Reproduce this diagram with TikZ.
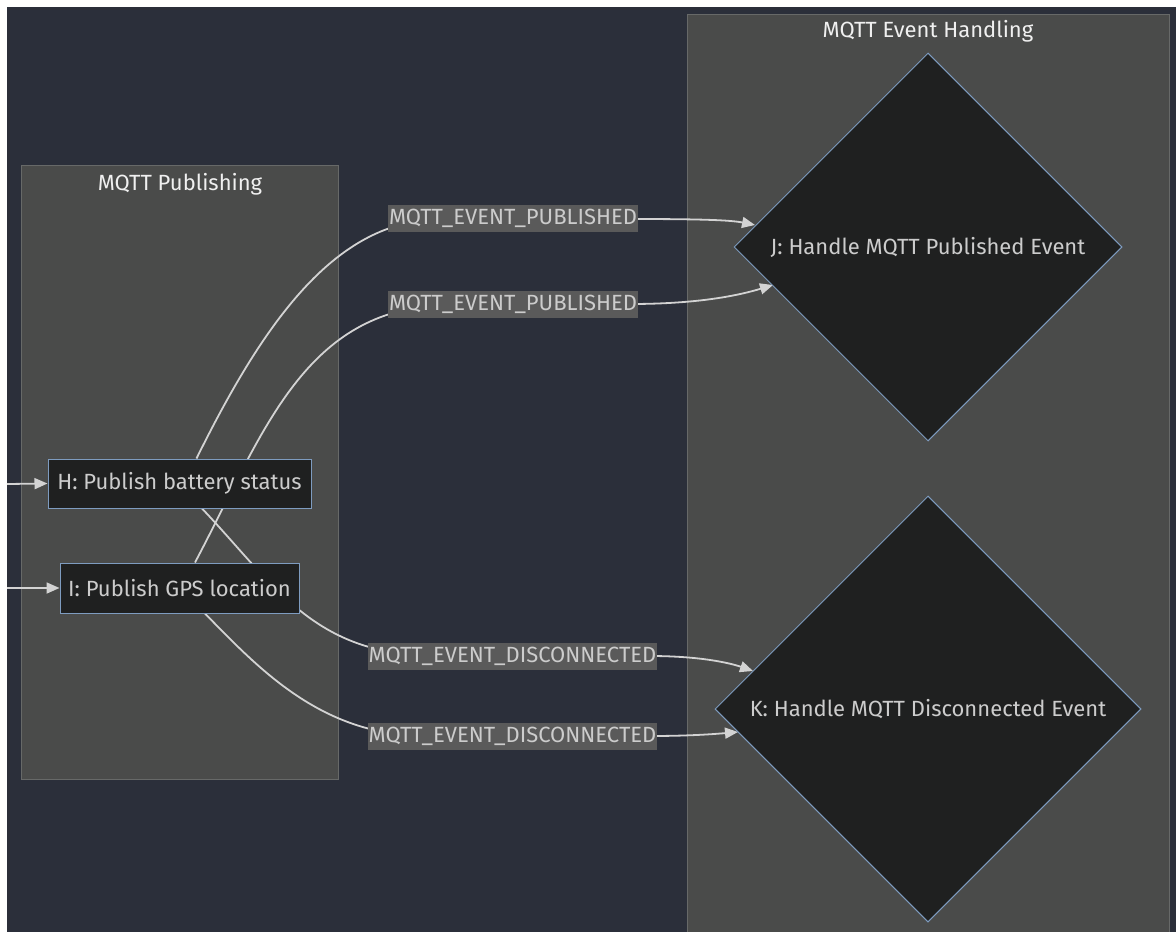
\documentclass[tikz,border=0pt]{standalone}
\usepackage{fontspec}
\setmainfont{Fira Sans}
\usetikzlibrary{arrows.meta,shapes.geometric,calc}
\pgfdeclarelayer{bglayer}
\pgfdeclarelayer{edgelayer}
\pgfsetlayers{bglayer,edgelayer,main}
\definecolor{bgc}{HTML}{2B2F3A}
\definecolor{clfill}{HTML}{4A4B4A}
\definecolor{cldraw}{HTML}{676968}
\definecolor{nfill}{HTML}{1F2020}
\definecolor{ndraw}{HTML}{7E9CC0}
\definecolor{edgec}{HTML}{D3D3D3}
\definecolor{lblbg}{HTML}{5A5A5A}
\definecolor{txtc}{HTML}{CCCCCC}
\definecolor{ttlc}{HTML}{F0F0F0}
\tikzset{
  cluster/.style={fill=clfill, draw=cldraw, line width=1pt},
  ttl/.style={text=ttlc, font=\fontsize{22}{24}\selectfont, inner sep=0pt, anchor=center},
  procbox/.style={rectangle, fill=nfill, draw=ndraw, line width=1pt, text=txtc, font=\fontsize{22}{24}\selectfont, inner sep=0pt},
  decbox/.style={diamond, aspect=1, fill=nfill, draw=ndraw, line width=1pt, text=txtc, font=\fontsize{22}{24}\selectfont, inner sep=0pt},
  conn/.style={draw=edgec, line width=1.8pt, -{Triangle[length=13pt,width=11pt]}},
  elabel/.style={fill=lblbg, text=txtc, font=\fontsize{22}{24}\selectfont, inner xsep=1pt, inner ysep=0pt, minimum height=27pt}
}
\begin{document}
\begin{tikzpicture}[x=1pt,y=-1pt]
\useasboundingbox (0,0) rectangle (1176,932);
\begin{pgfonlayer}{bglayer}
\clip (0,0) rectangle (1176,932);
\fill[white] (0,0) rectangle (1176,932);
\fill[bgc] (7,7) rectangle (1176,932);
\draw[cluster] (21,165) rectangle (338,779);
\draw[cluster] (687,14) rectangle (1169,945);
\end{pgfonlayer}
\node[ttl] (t1) at (180,184) {MQTT Publishing};
\node[ttl] (t2) at (928,31) {MQTT Event Handling};
% nodes
\node[procbox, minimum width=263pt, minimum height=49pt] (H) at (179.5,483.5) {H: Publish battery status};
\node[procbox, minimum width=239pt, minimum height=50pt] (I) at (179.5,588) {I: Publish GPS location};
\node[decbox, minimum width=388pt, minimum height=388pt] (J) at (928,247) {J: Handle MQTT Published Event};
\node[decbox, minimum width=426pt, minimum height=426pt] (K) at (928,709) {K: Handle MQTT Disconnected Event};
\coordinate (inH) at (7,484);
\coordinate (inI) at (7,588);
% edge labels
\node[elabel] (l1) at (513,218.5) {MQTT\_EVENT\_PUBLISHED};
\node[elabel] (l2) at (513,304) {MQTT\_EVENT\_PUBLISHED};
\node[elabel] (l3) at (512.5,656) {MQTT\_EVENT\_DISCONNECTED};
\node[elabel] (l4) at (512.5,736) {MQTT\_EVENT\_DISCONNECTED};
% edges behind nodes
\begin{pgfonlayer}{edgelayer}
\path[conn] ([xshift=17pt]H.north) .. controls (260,330) and (330,226) .. (430,220) -- (630,219) .. controls (700,219) and (730,220) .. (755,225);
\path[conn] ([xshift=15.5pt]I.north) .. controls (260,440) and (300,318) .. (430,306) -- (630,304) .. controls (700,304) and (740,295) .. (773,285);
\path[conn] ([xshift=22.5pt]H.south) .. controls (270,580) and (310,650) .. (420,655) -- (650,656) .. controls (700,656) and (730,663) .. (753,671);
\path[conn] ([xshift=25.5pt]I.south) .. controls (260,670) and (320,733) .. (420,736) -- (650,736) .. controls (690,736) and (715,734) .. (738,732);
\path[conn] (inH) -- (H.west);
\path[conn] (inI) -- (I.west);
\end{pgfonlayer}
\end{tikzpicture}
\end{document}
